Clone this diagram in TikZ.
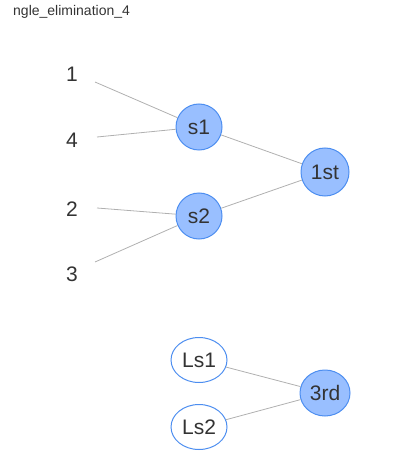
\documentclass[tikz,border=0pt]{standalone}
\usepackage{fontspec}
\setmainfont{Liberation Sans}
\usetikzlibrary{shapes.geometric}
\definecolor{nodefill}{HTML}{99BFFF}
\definecolor{nodeline}{HTML}{4D8EF0}
\definecolor{edgegray}{HTML}{B0B0B0}
\definecolor{textgray}{HTML}{333333}
\tikzset{
  match/.style={circle, draw=nodeline, fill=nodefill, line width=1pt, minimum size=46pt, inner sep=0pt, text=textgray, font=\fontsize{21}{21}\selectfont},
  loser/.style={ellipse, draw=nodeline, fill=white, line width=1pt, minimum width=56pt, minimum height=45pt, inner sep=0pt, text=textgray, font=\fontsize{21}{21}\selectfont},
  seed/.style={anchor=base, inner sep=0pt, text=textgray, font=\fontsize{21}{21}\selectfont},
  edge/.style={draw=edgegray, line width=0.8pt}
}

\begin{document}
\begin{tikzpicture}[x=1pt, y=-1pt]
  \useasboundingbox (0,0) rectangle (400,470);
  \node[anchor=base west, inner sep=0pt, text=textgray, font=\fontsize{14}{14}\selectfont] (title) at (13,16) {ngle\_elimination\_4};

  % first round
  \node[seed] (p1) at (72,82) {1};
  \node[seed] (p4) at (72,148) {4};
  \node[seed] (p2) at (72,216) {2};
  \node[seed] (p3) at (72,281) {3};
  \coordinate (e1) at (95,82);
  \coordinate (e4) at (97,137);
  \coordinate (e2) at (97,208);
  \coordinate (e3) at (95,262);

  \node[match] (s1) at (199,127) {s1};
  \node[match] (s2) at (199,216) {s2};
  \node[match, minimum size=48pt] (first) at (325,172) {1st};

  \draw[edge] (e1)--(s1);
  \draw[edge] (e4)--(s1);
  \draw[edge] (e2)--(s2);
  \draw[edge] (e3)--(s2);
  \draw[edge] (s1)--(first);
  \draw[edge] (s2)--(first);

  % third place
  \node[loser] (ls1) at (199,360) {Ls1};
  \node[loser] (ls2) at (199,427) {Ls2};
  \node[match, ellipse, minimum width=50pt, minimum height=46pt] (third) at (325,393) {3rd};

  \draw[edge] (ls1)--(third);
  \draw[edge] (ls2)--(third);
\end{tikzpicture}
\end{document}
